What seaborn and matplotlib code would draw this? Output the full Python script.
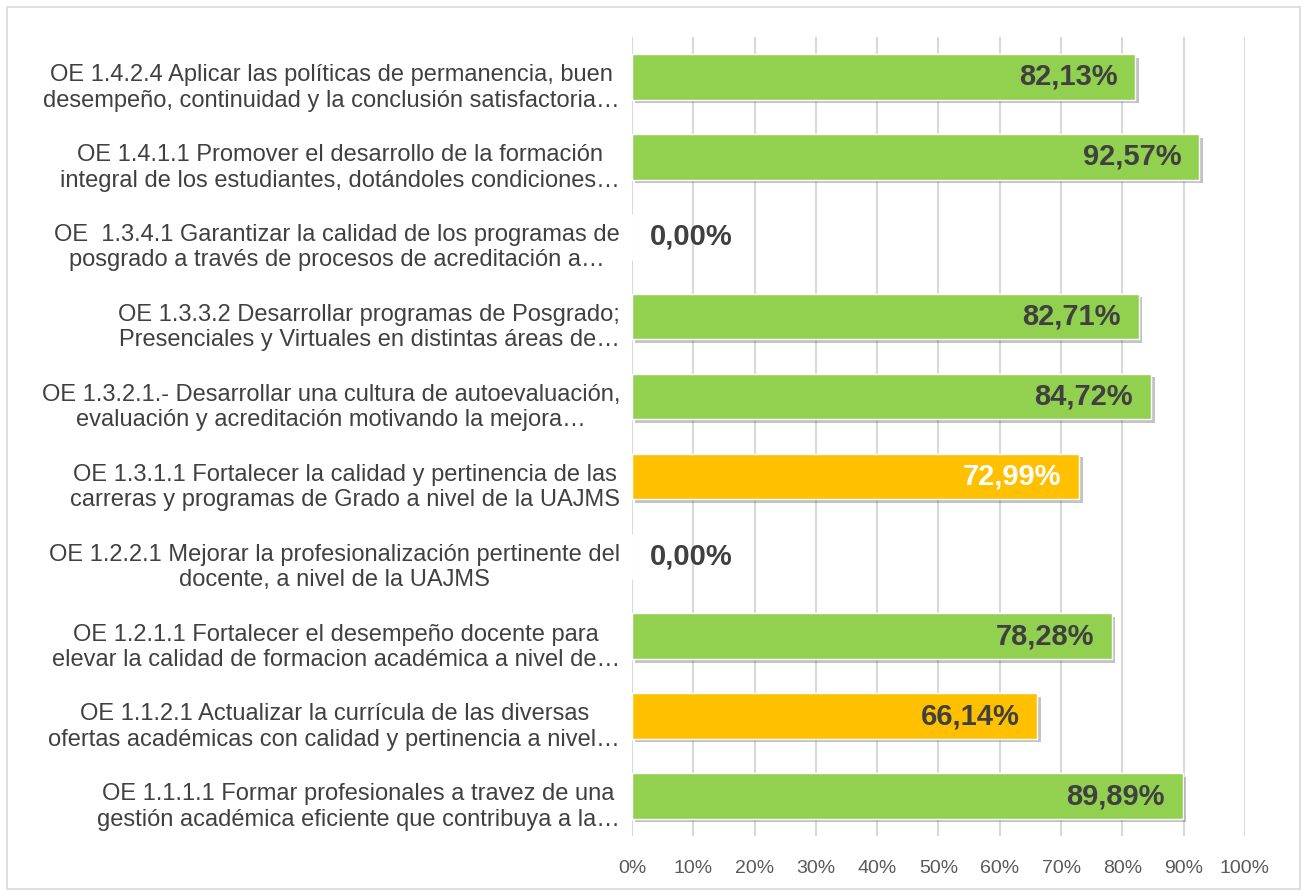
import pandas as pd
import seaborn as sns
import matplotlib.pyplot as plt
from matplotlib.patches import Rectangle
from matplotlib.transforms import offset_copy
import matplotlib.patheffects as pe

# Avance de objetivos estrategicos (OE), porcentaje de cumplimiento
labels = [
    'OE 1.4.2.4 Aplicar las políticas de permanencia, buen\ndesempeño, continuidad y la conclusión satisfactoria…',
    'OE 1.4.1.1 Promover el desarrollo de la formación\nintegral de los estudiantes, dotándoles condiciones…',
    'OE  1.3.4.1 Garantizar la calidad de los programas de\nposgrado a través de procesos de acreditación a…',
    'OE 1.3.3.2 Desarrollar programas de Posgrado;\nPresenciales y Virtuales en distintas áreas de…',
    'OE 1.3.2.1.- Desarrollar una cultura de autoevaluación,\nevaluación y acreditación motivando la mejora…',
    'OE 1.3.1.1 Fortalecer la calidad y pertinencia de las\ncarreras y programas de Grado a nivel de la UAJMS',
    'OE 1.2.2.1 Mejorar la profesionalización pertinente del\ndocente, a nivel de la UAJMS',
    'OE 1.2.1.1 Fortalecer el desempeño docente para\nelevar la calidad de formacion académica a nivel de…',
    'OE 1.1.2.1 Actualizar la currícula de las diversas\nofertas académicas con calidad y pertinencia a nivel…',
    'OE 1.1.1.1 Formar profesionales a travez de una\ngestión académica eficiente que contribuya a la…',
]
values = [82.13, 92.57, 0.00, 82.71, 84.72, 72.99, 0.00, 78.28, 66.14, 89.89]
bar_colors = ['#92D050', '#92D050', '#92D050', '#92D050', '#92D050',
              '#FFC000', '#92D050', '#92D050', '#FFC000', '#92D050']
value_colors = ['#404040'] * 5 + ['white'] + ['#404040'] * 4

sns.set_style('white')
plt.rcParams['font.family'] = ['Liberation Sans', 'DejaVu Sans']

dtf = pd.DataFrame({'OE': labels, 'Avance': values})

fig = plt.figure(figsize=(13.08, 8.93), dpi=100)
ax = fig.add_axes([0.4832, 0.0638, 0.9518 - 0.4832, 0.9586 - 0.0638])

sns.barplot(data=dtf, x='Avance', y='OE', hue='OE', palette=bar_colors,
            legend=False, width=0.57, saturation=1, ax=ax, zorder=3)

# Sombra de las barras
for bar in ax.patches:
    bar.set_path_effects([pe.SimplePatchShadow(offset=(2.5, -2.5), alpha=0.35,
                                               shadow_rgbFace='#555555'),
                          pe.Normal()])

ax.set_xlim(0, 100)
ax.set_xticks(range(0, 101, 10))
ax.set_xticklabels([f'{t}%' for t in range(0, 101, 10)])
ax.set_xlabel('')
ax.set_ylabel('')
ax.grid(True, axis='x', color='#D9D9D9', linewidth=1.5, zorder=0)
for s in ax.spines.values():
    s.set_visible(False)

ax.tick_params(axis='x', length=0, pad=17, labelsize=14, labelcolor='#595959')
ax.tick_params(axis='y', length=0, labelleft=False)

# Etiquetas de categoria (un poco por debajo del centro de la barra)
lab_tr = offset_copy(ax.get_yaxis_transform(), fig=fig, x=-12, y=-11, units='dots')
for i, lab in enumerate(labels):
    ax.text(0, i, lab, transform=lab_tr, ha='right', va='center',
            multialignment='center', linespacing=1.2, fontsize=17,
            color='#404040')

# Etiquetas de valor
for i, v in enumerate(values):
    txt = f'{v:.2f}%'.replace('.', ',')
    if v > 0:
        ax.annotate(txt, (v, i), xytext=(-13, 0), textcoords='offset points',
                    ha='right', va='center', fontsize=21, fontweight='bold',
                    color=value_colors[i], zorder=5)
    else:
        ax.annotate(txt, (v, i), xytext=(13, 0), textcoords='offset points',
                    ha='left', va='center', fontsize=21, fontweight='bold',
                    color=value_colors[i], zorder=5)

# Marco exterior
fig.patches.append(Rectangle((7 / 1308, 4 / 893), 1293 / 1308, 882 / 893,
                             transform=fig.transFigure, fill=False,
                             edgecolor='#D9D9D9', linewidth=1.2))

fig.savefig('out.png', dpi=100)
